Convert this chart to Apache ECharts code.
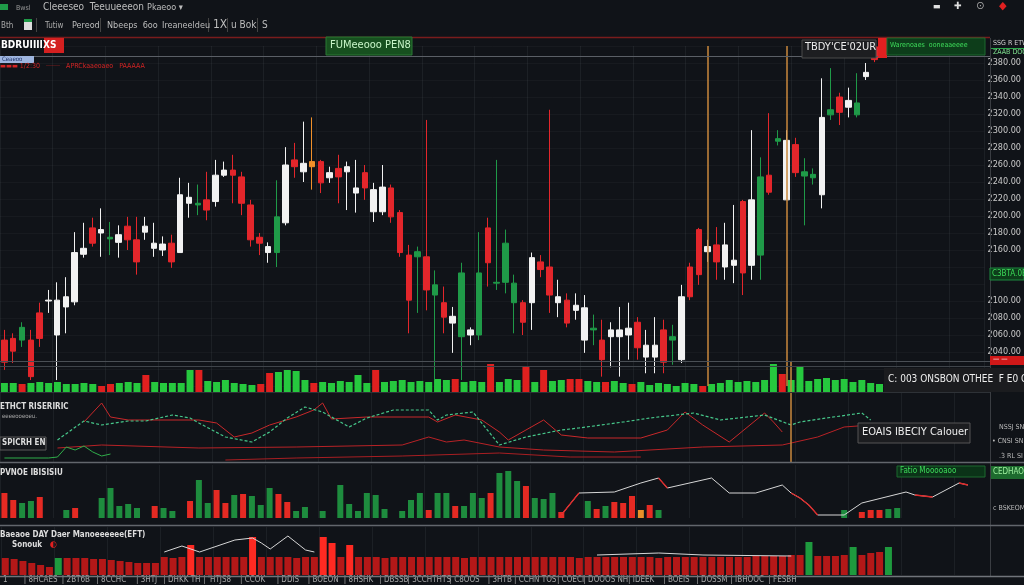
<!DOCTYPE html>
<html><head><meta charset="utf-8">
<script src="https://cdn.jsdelivr.net/npm/echarts@6/dist/echarts.min.js"></script>
<style>html,body{margin:0;padding:0;background:#101318;}#c{width:1024px;height:585px;}</style>
</head><body><div id="c"></div>
<script>
// ---------- DATA ----------
const N = 112; // category slots on the time axis
const cats = Array.from({length: N}, (_, i) => 'K' + i);

// candles: [open, close, low, high]
const ohlc = [
[2054,2028,2019,2066],[2056,2041,2027,2062],[2054,2069,2046,2075],[2054,2011,2007,2066],[2086,2056,2046,2098],
[2100,2101,2086,2113],[2060,2101,2007,2122],[2093,2105,2062,2128],[2099,2157,2095,2181],[2155,2162,2151,2192],
[2186,2168,2164,2198],[2180,2184,2152,2209],[2173,2175,2154,2193],[2169,2178,2151,2189],[2188,2172,2160,2199],
[2172,2146,2131,2199],[2181,2188,2172,2199],[2162,2168,2152,2192],[2160,2167,2153,2176],[2168,2146,2139,2178],
[2157,2225,2157,2245],[2215,2222,2198,2239],[2213,2215,2201,2237],[2219,2207,2195,2252],[2217,2248,2211,2266],
[2248,2254,2246,2264],[2254,2248,2215,2272],[2246,2215,2201,2252],[2213,2172,2164,2219],[2175,2168,2154,2180],
[2157,2164,2145,2169],[2157,2199,2140,2242],[2192,2260,2189,2281],[2266,2258,2245,2286],[2252,2262,2240,2311],
[2258,2264,2231,2316],[2264,2239,2227,2266],[2245,2251,2239,2258],[2256,2246,2215,2272],[2252,2258,2207,2264],
[2227,2233,2204,2266],[2251,2233,2219,2260],[2205,2231,2193,2239],[2205,2234,2201,2260],[2233,2199,2192,2237],
[2204,2157,2152,2207],[2154,2101,2062,2166],[2152,2158,2086,2164],[2152,2113,2089,2313],[2107,2119,2007,2136],
[2098,2081,2062,2117],[2074,2082,2039,2093],[2058,2133,2007,2145],[2060,2066,2048,2069],[2060,2133,2054,2181],
[2186,2145,2117,2198],[2121,2122,2113,2266],[2122,2168,2109,2184],[2098,2121,2062,2131],[2098,2075,2060,2101],
[2098,2151,2066,2157],[2146,2137,2128,2154],[2140,2107,2086,2325],[2098,2105,2081,2125],[2101,2074,2069,2109],
[2089,2095,2078,2109],[2054,2092,2039,2107],[2066,2068,2048,2084],[2054,2031,2011,2078],[2058,2066,2022,2075],
[2058,2066,2011,2093],[2060,2068,2031,2098],[2075,2045,2031,2081],[2034,2048,2015,2066],[2034,2048,2015,2081],
[2066,2028,2015,2078],[2054,2058,2025,2072],[2031,2105,2027,2119],[2140,2105,2101,2145],[2184,2131,2119,2186],
[2158,2164,2146,2172],[2166,2146,2125,2187],[2140,2166,2125,2192],[2142,2148,2121,2213],[2217,2133,2107,2219],
[2142,2219,2125,2301],[2154,2246,2125,2269],[2248,2228,2225,2321],[2288,2291,2283,2301],[2219,2289,2219,2301],
[2284,2251,2246,2292],[2247,2252,2189,2268],[2245,2249,2237,2256],[2225,2316,2209,2362],[2319,2325,2313,2374],
[2340,2322,2307,2345],[2328,2336,2316,2351],[2319,2333,2316,2368],[2364,2369,2360,2380],[2399,2384,2381,2400]
];
const candleColor = "rrgrrwwwwwrwgwrrwwwr" + "wwgrwwrrrrwgwrworwrw" + "wrwwrrrgrgrwgwgrgggr" + "wrrwrwwgrwwwrwwrgwrr" + "wrwwrwgrgwrggwgrwgwr";

// volume (thousands)
const volume = [9,9,8,9,10,9,10,8,8,9, 8,6,8,9,10,9,17,10,9,9, 9,22,22,11,10,12,9,8,7,8,
  19,20,22,21,12,9,10,9,11,10, 17,9,22,10,11,12,10,11,10,13, 12,13,10,11,10,28,10,13,12,26,
  10,22,11,12,13,13,11,10,10,11, 9,8,10,7,9,8,6,9,8,6, 8,9,12,10,11,10,12,28,18,12,
  25,11,13,14,12,13,10,12,9,8];
const volColor = "ggrggggggggrrgggrggg" + "ggrggggggrrggggrgggg" + "ggrggggggggrgggrgggr" + "grggrrggrggrgggggggr" + "ggggggggrggggggggggg";

// vertical session markers (slot indices)
const markerSlotsMain = [80, 89];
const markerSlotsLower = [89];

// oscillator pane: [slot, value]
const oscTeal = [[6,22],[9,41],[11,37],[14,41],[16,41],[19,47],[21,44],[22,39],[25,25],[28,20],[30,30],[32,44],[34,55],[36,50],[39,35],[41,44],[44,52],[48,52],[49,42],[50,47],[53,50],[56,17],[59,25],[63,32],[65,34],[70,40],[73,44],[78,49],[81,42],[86,47],[89,37],[90,40],[93,44],[97,49],[98,42]];
const oscRed = [[9,40],[11,59],[12,45],[14,42],[22,42],[24,39],[26,25],[28,29],[30,37],[33,45],[35,52],[36,59],[37,43],[41,45],[48,45],[49,40],[51,47],[54,42],[56,30],[57,22],[59,32],[61,42],[63,27],[66,24],[72,24],[75,32],[77,50],[79,37],[82,20],[86,49],[87,40],[88,30]];
const oscSlow = [[6,14],[11,17],[22,14],[33,15],[45,17],[48,25],[50,20],[52,22],[56,15],[61,12],[69,10],[79,15],[88,17],[92,25],[95,35],[98,37]];
const oscBase = [[25,2],[33,4],[45,6],[56,9],[64,5],[72,5]];
const oscGreenLow = [[0,4],[5,4],[6,5],[7,15],[8,12],[9,16],[10,10],[11,6],[12,8]];

// histogram pane: [slot, value, colour]
const histBars = [[0,25,'r'],[1,18,'r'],[2,15,'g'],[3,17,'g'],[4,21,'r'],[7,8,'g'],[8,10,'r'],[11,20,'g'],[12,30,'g'],[13,12,'g'],[14,14,'g'],[15,10,'g'],[17,12,'r'],[18,10,'g'],[19,7,'g'],[21,17,'r'],[22,38,'g'],[23,15,'g'],[24,28,'r'],[25,15,'r'],[26,23,'g'],[27,24,'r'],[28,22,'g'],[29,13,'g'],[30,30,'g'],[31,24,'r'],[32,16,'r'],[33,7,'g'],[34,11,'g'],[36,7,'g'],[38,33,'g'],[39,14,'g'],[40,7,'g'],[41,25,'g'],[42,23,'g'],[43,9,'g'],[45,7,'g'],[46,18,'g'],[47,25,'g'],[48,8,'r'],[49,25,'g'],[50,25,'g'],[51,12,'r'],[52,12,'g'],[53,25,'g'],[54,20,'g'],[55,25,'r'],[56,45,'g'],[57,47,'g'],[58,37,'g'],[59,32,'r'],[60,20,'g'],[61,19,'g'],[62,25,'g'],[63,6,'r'],[66,17,'g'],[67,9,'r'],[68,12,'g'],[69,16,'r'],[70,15,'r'],[71,22,'r'],[72,8,'o'],[73,13,'r'],[74,8,'g'],[95,8,'g'],[97,6,'r'],[98,8,'r'],[99,8,'r'],[100,9,'g'],[101,10,'g']];
const histLine = [[63,3],[65,25],[69,26],[72,35],[74,40],[75,30],[80,40],[82,25],[85,25],[88,33],[89,25],[90,20],[91,13],[92,3],[95,3],[97,15],[102,26],[103,23],[105,21],[108,35],[109,33]];
const histLineRed = [[63,3],[65,25],[66,'-'],[74,40],[75,30],[76,'-'],[89,25],[90,20],[91,13],[92,3],[93,'-'],[103,23],[105,21],[106,'-'],[108,35],[109,33]];

// bottom pane
const bottomVals = [17,16,14,12,10,8,17,17,17,17, 16,16,15,14,13,12,12,12,18,17, 18,30,18,18,18,18,18,18,38,18,
  18,18,18,17,18,18,38,32,18,30, 18,18,18,17,18,18,18,18,18,18, 18,18,17,18,18,18,18,18,18,18,
  18,18,18,18,18,17,18,18,18,18, 18,18,18,18,17,18,18,18,18,18, 18,18,18,18,18,19,19,19,19,20,
  20,33,19,19,19,20,28,20,22,23,28];
const bottomColor = "rrrrrrgrrrrrrrrrrrrr" + "rRrrrrrrRrrrrrrrRRrR" + "rrrrrrrrrrrrrrrrrrrr" + "rrrrrrrrrrrrrrrrrrrr" + "rrrrrrrrrrrgrrrrgrrrg";
const bottomLine = [[18,23],[20,29],[22,23],[26,35],[28,37],[29,32],[30,26],[32,39],[34,25],[35,23],[36,'-'],[67,20],[74,22],[79,20],[89,19]];

const timeLabels = ["1","8HCAES","2BT6B","8CCHC","3HTJ","DHKK TH","'HTJS8","CCOK","DDIS","BOEON","8HSHK","DBSSB","3CCHTHTS","C8OOS","3HTB","CCHN TOS","COECI","DOOOS NH","IDEEK","BOEIS","DOSSM","IBHOOC","FESBH"];
const hiddenPriceTicks = [2140, 2120];

// ---------- STYLE ----------
const BG = '#101318';
const FONT = "'DejaVu Sans Condensed','DejaVu Sans',sans-serif";
const C = {w:'#f2f2f2', r:'#e3262b', g:'#1f9a48', o:'#f0902a'};
const VC = {g:'#26c83e', r:'#e0201f'};
const HC = {g:'#1e8c3e', r:'#e52a23', o:'#e8902a'};
const BC = {r:'#b41818', R:'#ff2a22', g:'#1e9a3e'};
const GRIDC = 'rgba(140,150,160,0.10)';
const ORANGE = '#c8883c';

function xa(gi, extra) {
  return Object.assign({type:'category', gridIndex:gi, data:cats, boundaryGap:true,
    axisLine:{show:false}, axisTick:{show:false}, axisLabel:{show:false},
    splitLine:{show:true, interval:5, lineStyle:{color:GRIDC, width:1}}}, extra || {});
}
function ya(gi, max) {
  return {type:'value', gridIndex:gi, min:0, max:max, show:false, splitLine:{show:false}};
}
const vline = (idxs) => ({symbol:['none','none'], silent:true, label:{show:false},
  lineStyle:{color:ORANGE, width:1.5, type:'solid', opacity:1},
  data: idxs.map(i => ({xAxis: cats[i], lineStyle:{color:ORANGE, width:1.5, type:'solid'}}))});
const markerSeries = (gi, idxs) => ({type:'line', xAxisIndex:gi, yAxisIndex:gi, data:[], symbol:'none', z:1,
  markLine: vline(idxs)});

function T(x, y, text, size, color, weight, extra) {
  return {type:'text', x:x, y:y, silent:true, z:100,
    style:Object.assign({text:text, fill:color, fontSize:size, fontFamily:FONT, fontWeight:weight || 'normal', align:'left', verticalAlign:'top'}, extra || {})};
}
function R(x, y, w, h, fill, stroke) {
  return {type:'rect', silent:true, z:95, shape:{x:x, y:y, width:w, height:h}, style:{fill:fill, stroke:stroke || null, lineWidth:1}};
}
function L(x1, y1, x2, y2, color, w) {
  return {type:'line', silent:true, z:90, shape:{x1:x1, y1:y1, x2:x2, y2:y2}, style:{stroke:color, lineWidth:w || 1}};
}

const graphic = [
  // toolbar row 1
  R(0, 4, 8, 6, '#1f9a48'),
  T(16, 5, 'Bwsl', 7, '#9a9a9a'),
  T(43, 2, 'Cleeeseo  Teeuueeeon', 10, '#bdbdbd'),
  T(147, 3, 'Pkaeoo ▾', 9, '#bdbdbd'),
  // toolbar row 2
  T(1, 22, 'Bth', 8, '#aaaaaa'),
  R(24, 19, 8, 11, '#dddddd'), R(24, 19, 8, 3, '#1f9a48'),
  L(36.5, 18, 36.5, 32, '#444'),
  T(45, 22, 'Tutiw', 8, '#aaaaaa'),
  T(72, 21, 'Pereod', 9, '#bdbdbd'),
  L(100.5, 18, 100.5, 32, '#444'),
  T(107, 21, 'Nbeeps  6oo', 9, '#bdbdbd'),
  T(162, 21, 'Ireaneeldeu', 9, '#bdbdbd'),
  L(208.5, 18, 208.5, 32, '#444'),
  T(213, 19, '1X', 12, '#bdbdbd'),
  L(227.5, 18, 227.5, 32, '#444'),
  T(231, 20, 'u Bok', 10, '#bdbdbd'),
  L(257.5, 18, 257.5, 32, '#444'),
  T(262, 20, 'S', 10, '#bdbdbd'),
  // top right icons
  T(933, 2, '▬', 9, '#e0e0e0'),
  T(954, 1, '✚', 10, '#e0e0e0'),
  T(976, 1, '⊙', 11, '#aaaaaa'),
  T(999, 1, '◆', 11, '#e02020'),
  // frame lines
  L(0, 37.5, 990, 37.5, '#7a1c1c', 1.5),
  L(0, 56.5, 990, 56.5, '#5a5f66'),
  L(990.5, 38, 990.5, 577, '#3a3d42'),
  L(0, 361.5, 990, 361.5, '#4a4f55'),
  L(0, 366.5, 990, 366.5, '#3f444a'),
  L(0, 392.5, 990, 392.5, '#2e3237'),
  L(0, 462.5, 1024, 462.5, '#62666c', 1.5),
  L(0, 525.5, 1024, 525.5, '#62666c', 1.5),
  L(0, 576.5, 1024, 576.5, '#70747a', 1.5),
  // main pane labels
  R(44, 38, 20, 15, '#d42020'),
  T(1, 40, 'BDRUIIIIXS', 10, '#ffffff', 'bold'),
  R(0, 56, 34, 7, '#9fb6e0'),
  T(2, 56, 'Ceaeoo', 6, '#1c2f66'),
  T(0, 63, '▬▬▬ 1/2:30   ·······   APRCkaaeoaeo   PAAAAA', 7, '#d42424'),
  R(326, 37, 86, 18, '#17501f', '#2a7a35'),
  T(330, 40, 'FUMeeooo PEN8', 11, '#c8f5c8'),
  R(802, 40, 74, 18, '#1d1e21', '#4a4a4a'),
  T(805, 42, "TBDY'CE'02UR", 11, '#ececec'),
  R(878, 38, 9, 20, '#e02020'),
  R(887, 38, 98, 17, '#0d3d1a', '#1d6b2e'),
  T(890, 42, 'Warenoaes  ooneaaeeee', 7, '#3ddc5a'),
  T(993, 40, 'SSG R ETW', 7, '#d0d0d0'),
  L(991, 48.5, 1024, 48.5, '#2aa84a'),
  T(993, 49, 'ZAAB DOO', 7, '#7fe08f'),
  R(990, 268, 34, 12, '#0d3d1a', '#1d8a3e'),
  T(992, 270, 'C3BTA.0B', 8, '#3ddc5a'),
  R(990, 356, 34, 9, '#d01818'),
  T(993, 356, '— —', 7, '#ffffff'),
  // volume box
  R(884, 368, 140, 24, '#1b1c1f'),
  T(888, 374, 'C: 003 ONSBON OTHEE  F E0 OAD', 10, '#eeeeee'),
  // oscillator pane
  T(0, 403, 'ETHCT RISERIRIC', 8, '#dddddd', 'bold'),
  T(2, 413, 'eeeeooeoeu.', 6, '#aaaaaa'),
  R(0, 437, 46, 13, '#15171b', '#5a5a5a'),
  T(2, 439, 'SPICRH EN', 8, '#dddddd', 'bold'),
  R(858, 423, 112, 20, '#1c1d20', '#555555'),
  T(862, 427, 'EOAIS IBECIY Calouer', 11, '#eeeeee'),
  T(999, 424, 'NSSJ SN', 7, '#bbbbbb'),
  T(992, 438, '• CNSI SN', 7, '#bbbbbb'),
  T(999, 453, '.3 RL SI', 7, '#bbbbbb'),
  // histogram pane
  T(0, 469, 'PVNOE IBISISIU', 8, '#dddddd', 'bold'),
  R(897, 466, 88, 11, '#0b3318', '#1d6b2e'),
  T(900, 467, 'Fatio Mooooaoo', 8, '#3ddc5a'),
  R(991, 466, 33, 13, '#1d6b2e'),
  T(993, 468, 'CEDHAO', 8, '#9ff09f'),
  T(993, 505, 'c BSKEOM', 7, '#bbbbbb'),
  // bottom pane
  T(0, 531, 'Baeaoe DAY Daer Manoeeeeee(EFT)', 8, '#dddddd', 'bold'),
  T(12, 541, 'Sonouk', 8, '#dddddd', 'bold'),
  T(50, 540, '◐', 9, '#e02020')
];

const option = {
  backgroundColor: BG,
  animation: false,
  grid: [
    {left:0, right:34, top:46, height:340},
    {left:0, right:34, top:362, height:30},
    {left:0, right:34, top:393, height:69},
    {left:0, right:34, top:465, height:53},
    {left:0, right:34, top:527, height:48}
  ],
  xAxis: [
    xa(0), xa(1, {splitLine:{show:false}}), xa(2), xa(3),
    xa(4, {axisLabel:{show:true, interval:3, margin:1, color:'#a8a8a8', fontSize:8, fontFamily:FONT,
      formatter:(v, i) => (i % 4 === 0 && timeLabels[i/4]) ? ((i ? '| ' : '') + timeLabels[i/4]) : ''}})
  ],
  yAxis: [
    {type:'value', gridIndex:0, min:2000, max:2400, interval:20, position:'right',
     axisLine:{show:false}, axisTick:{show:false},
     axisLabel:{margin:3, color:'#c8c8c8', fontSize:9, fontFamily:FONT, align:'left', showMaxLabel:false,
       formatter:v => (v >= 2040 && v < 2400 && hiddenPriceTicks.indexOf(v) < 0) ? v.toFixed(2) : ''},
     splitLine:{show:true, lineStyle:{color:'rgba(140,150,160,0.06)'}}},
    ya(1, 30), ya(2, 69), ya(3, 53), ya(4, 48)
  ],
  graphic: graphic,
  series: [
    markerSeries(0, markerSlotsMain),
    markerSeries(1, markerSlotsLower),
    markerSeries(2, markerSlotsLower),
    {type:'bar', name:'volume', xAxisIndex:1, yAxisIndex:1, barWidth:7,
     data: volume.map((v, i) => ({value:v, itemStyle:{color:VC[volColor[i]]}}))},
    {type:'candlestick', name:'price', xAxisIndex:0, yAxisIndex:0, barWidth:6,
     itemStyle:{borderWidth:1},
     data: ohlc.map((d, i) => { const c = C[candleColor[i]];
       return {value:d, itemStyle:{color:c, color0:c, borderColor:c, borderColor0:c}}; })},
    {type:'line', xAxisIndex:2, yAxisIndex:2, data:oscSlow, symbol:'none', lineStyle:{color:'#b82226', width:1}},
    {type:'line', xAxisIndex:2, yAxisIndex:2, data:oscBase, symbol:'none', lineStyle:{color:'#a81e22', width:1}},
    {type:'line', xAxisIndex:2, yAxisIndex:2, data:oscGreenLow, symbol:'none', lineStyle:{color:'#2fae4a', width:1}},
    {type:'line', xAxisIndex:2, yAxisIndex:2, data:oscRed, symbol:'none', lineStyle:{color:'#c8282a', width:1}},
    {type:'line', xAxisIndex:2, yAxisIndex:2, data:oscTeal, symbol:'none', lineStyle:{color:'#46c78a', width:1.2, type:[3,2]}},
    {type:'bar', xAxisIndex:3, yAxisIndex:3, barWidth:6,
     data: histBars.map(d => ({value:[d[0], d[1]], itemStyle:{color:HC[d[2]]}}))},
    {type:'line', xAxisIndex:3, yAxisIndex:3, data:histLine, symbol:'none', lineStyle:{color:'#d6d6d6', width:1}},
    {type:'line', xAxisIndex:3, yAxisIndex:3, data:histLineRed, symbol:'none', connectNulls:false, lineStyle:{color:'#e02a2a', width:1.3}},
    {type:'bar', xAxisIndex:4, yAxisIndex:4, barWidth:7,
     data: bottomVals.map((v, i) => ({value:v, itemStyle:{color:BC[bottomColor[i]]}}))},
    {type:'line', xAxisIndex:4, yAxisIndex:4, data:bottomLine, symbol:'none', lineStyle:{color:'#d6d6d6', width:1}}
  ]
};

const chart = echarts.init(document.getElementById('c'), null, {renderer:'canvas'});
chart.setOption(option);
</script>
</body></html>
